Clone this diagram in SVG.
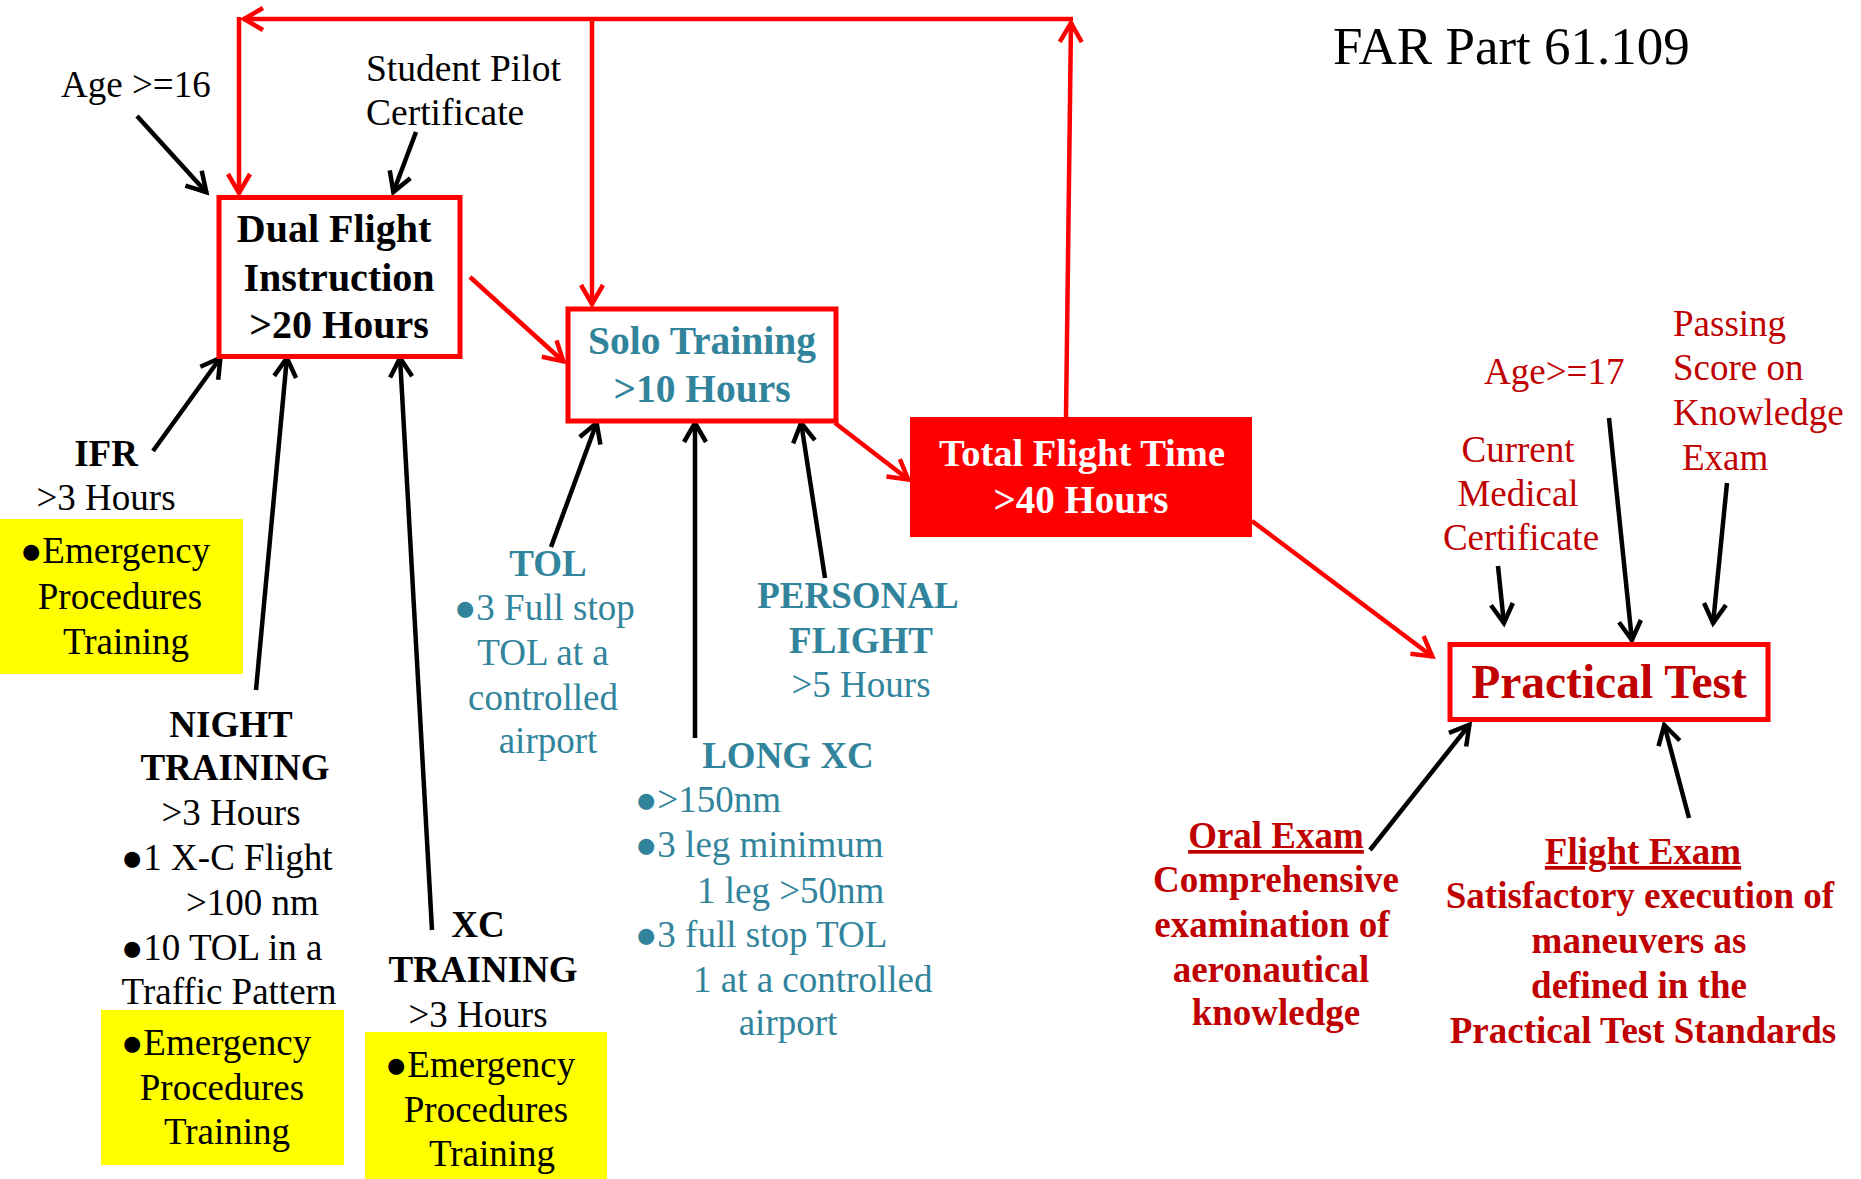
<svg xmlns="http://www.w3.org/2000/svg" width="1861" height="1179" viewBox="0 0 1861 1179">
<style>
text{font-family:"Liberation Serif","Times New Roman",serif;font-size:37px}
.b{font-weight:bold}
.m{text-anchor:middle}
.k{fill:#000}
.t{fill:#31849B}
.r{fill:#C00000}
.w{fill:#FFFFFF}
.u{text-decoration:underline}
.box{fill:#FFFFFF;stroke:#FF0000;stroke-width:5}
.yel{fill:#FFFF00}
.ca{stroke:#000;stroke-width:4.5;fill:none}
.cr{stroke:#FF0000;stroke-width:4.5;fill:none}
</style>
<defs>
<marker id="ab" viewBox="-26 -16 32 32" refX="0" refY="0" markerWidth="32" markerHeight="32" markerUnits="userSpaceOnUse" orient="auto" overflow="visible">
<path d="M-20,-11 L-1,0 L-20,11" fill="none" stroke="#000" stroke-width="4.5"/>
</marker>
<marker id="ar" viewBox="-26 -16 32 32" refX="0" refY="0" markerWidth="32" markerHeight="32" markerUnits="userSpaceOnUse" orient="auto" overflow="visible">
<path d="M-20,-11 L-1,0 L-20,11" fill="none" stroke="#FF0000" stroke-width="4.5"/>
</marker>
</defs>
<rect width="1861" height="1179" fill="#FFFFFF"/>

<g id="connectors">
<line class="cr" x1="1066" y1="417" x2="1071" y2="22" marker-end="url(#ar)"/>
<line class="cr" x1="1073" y1="19" x2="243" y2="19" marker-end="url(#ar)"/>
<line class="cr" x1="239" y1="17" x2="239" y2="194" marker-end="url(#ar)"/>
<line class="cr" x1="592" y1="19" x2="592" y2="305" marker-end="url(#ar)"/>
<line class="cr" x1="470" y1="277" x2="564" y2="362" marker-end="url(#ar)"/>
<line class="cr" x1="835" y1="423" x2="909" y2="480" marker-end="url(#ar)"/>
<line class="cr" x1="1252" y1="521" x2="1433" y2="657" marker-end="url(#ar)"/>
<line class="ca" x1="137" y1="116" x2="207" y2="193" marker-end="url(#ab)"/>
<line class="ca" x1="416" y1="132" x2="393" y2="193" marker-end="url(#ab)"/>
<line class="ca" x1="153" y1="451" x2="221" y2="357" marker-end="url(#ab)"/>
<line class="ca" x1="256" y1="690" x2="287" y2="357" marker-end="url(#ab)"/>
<line class="ca" x1="432" y1="930" x2="400" y2="357" marker-end="url(#ab)"/>
<line class="ca" x1="551" y1="547" x2="597" y2="422" marker-end="url(#ab)"/>
<line class="ca" x1="695" y1="738" x2="695" y2="422" marker-end="url(#ab)"/>
<line class="ca" x1="825" y1="578" x2="801" y2="422" marker-end="url(#ab)"/>
<line class="ca" x1="1498" y1="566" x2="1504" y2="624" marker-end="url(#ab)"/>
<line class="ca" x1="1609" y1="418" x2="1632" y2="641" marker-end="url(#ab)"/>
<line class="ca" x1="1727" y1="483" x2="1713" y2="624" marker-end="url(#ab)"/>
<line class="ca" x1="1370" y1="850" x2="1470" y2="724" marker-end="url(#ab)"/>
<line class="ca" x1="1689" y1="818" x2="1664" y2="724" marker-end="url(#ab)"/>
</g>

<g id="title"><text x="1333" y="64" style="font-size:53px" class="k">FAR Part 61.109</text></g>

<g id="age16"><text x="61" y="97" class="k">Age &gt;=16</text></g>
<g id="student-pilot">
<text x="366" y="81" class="k" style="font-size:37.5px">Student Pilot</text>
<text x="366" y="125" class="k" style="font-size:37.5px">Certificate</text>
</g>

<g id="dual">
<rect class="box" x="219" y="197.5" width="241" height="159"/>
<text x="334" y="242" class="b m k" style="font-size:40px">Dual Flight</text>
<text x="339" y="291" class="b m k" style="font-size:40px">Instruction</text>
<text x="339" y="338" class="b m k" style="font-size:40px">&gt;20 Hours</text>
</g>

<g id="solo">
<rect class="box" x="568" y="309" width="268" height="112"/>
<text x="702" y="354" class="b m t" style="font-size:39.5px">Solo Training</text>
<text x="702" y="402" class="b m t" style="font-size:39.5px">&gt;10 Hours</text>
</g>

<g id="total">
<rect x="910" y="417" width="342" height="120" fill="#FF0000"/>
<text x="1082" y="466" class="b m w" style="font-size:38.5px">Total Flight Time</text>
<text x="1081" y="513" class="b m w" style="font-size:39px">&gt;40 Hours</text>
</g>

<g id="practical">
<rect class="box" x="1450" y="644.5" width="318" height="75"/>
<text x="1609" y="698" class="b m r" style="font-size:47.5px">Practical Test</text>
</g>

<g id="ifr">
<text x="106" y="466" class="b m k">IFR</text>
<text x="106" y="510" class="m k">&gt;3 Hours</text>
<rect class="yel" x="0" y="519" width="243" height="155"/>
<text x="20" y="563" class="k">●Emergency</text>
<text x="120" y="609" class="m k">Procedures</text>
<text x="126" y="654" class="m k">Training</text>
</g>

<g id="night">
<text x="231" y="737" class="b m k">NIGHT</text>
<text x="235" y="780" class="b m k">TRAINING</text>
<text x="231" y="825" class="m k">&gt;3 Hours</text>
<text x="121" y="870" class="k">●1 X-C Flight</text>
<text x="186" y="915" class="k">&gt;100 nm</text>
<text x="121" y="960" class="k">●10 TOL in a</text>
<text x="229" y="1004" class="m k">Traffic Pattern</text>
<rect class="yel" x="101" y="1010" width="243" height="155"/>
<text x="121" y="1055" class="k">●Emergency</text>
<text x="222" y="1100" class="m k">Procedures</text>
<text x="227" y="1144" class="m k">Training</text>
</g>

<g id="xc">
<text x="478" y="937" class="b m k">XC</text>
<text x="483" y="982" class="b m k">TRAINING</text>
<text x="478" y="1027" class="m k">&gt;3 Hours</text>
<rect class="yel" x="365" y="1032" width="242" height="147"/>
<text x="385" y="1077" class="k">●Emergency</text>
<text x="486" y="1122" class="m k">Procedures</text>
<text x="492" y="1166" class="m k">Training</text>
</g>

<g id="tol">
<text x="548" y="576" class="b m t">TOL</text>
<text x="454" y="620" class="t">●3 Full stop</text>
<text x="543" y="665" class="m t">TOL at a</text>
<text x="543" y="710" class="m t">controlled</text>
<text x="548" y="753" class="m t">airport</text>
</g>

<g id="personal">
<text x="858" y="608" class="b m t">PERSONAL</text>
<text x="861" y="653" class="b m t">FLIGHT</text>
<text x="861" y="697" class="m t">&gt;5 Hours</text>
</g>

<g id="longxc">
<text x="788" y="768" class="b m t">LONG XC</text>
<text x="635" y="812" class="t">●&gt;150nm</text>
<text x="635" y="857" class="t">●3 leg minimum</text>
<text x="697" y="903" class="t">1 leg &gt;50nm</text>
<text x="635" y="947" class="t">●3 full stop TOL</text>
<text x="693" y="992" class="t">1 at a controlled</text>
<text x="788" y="1035" class="m t">airport</text>
</g>

<g id="age17"><text x="1484" y="384" class="r">Age&gt;=17</text></g>
<g id="passing">
<text x="1673" y="336" class="r">Passing</text>
<text x="1673" y="380" class="r">Score on</text>
<text x="1673" y="425" class="r">Knowledge</text>
<text x="1682" y="470" class="r">Exam</text>
</g>
<g id="medical">
<text x="1518" y="462" class="m r">Current</text>
<text x="1518" y="506" class="m r">Medical</text>
<text x="1521" y="550" class="m r">Certificate</text>
</g>

<g id="oral">
<text x="1276" y="848" class="b m r u">Oral Exam</text>
<text x="1276" y="892" class="b m r">Comprehensive</text>
<text x="1272" y="937" class="b m r">examination of</text>
<text x="1271" y="982" class="b m r">aeronautical</text>
<text x="1276" y="1025" class="b m r">knowledge</text>
</g>

<g id="flight">
<text x="1643" y="864" class="b m r u">Flight Exam</text>
<text x="1640" y="908" class="b m r">Satisfactory execution of</text>
<text x="1639" y="953" class="b m r">maneuvers as</text>
<text x="1639" y="998" class="b m r">defined in the</text>
<text x="1643" y="1043" class="b m r">Practical Test Standards</text>
</g>
</svg>
